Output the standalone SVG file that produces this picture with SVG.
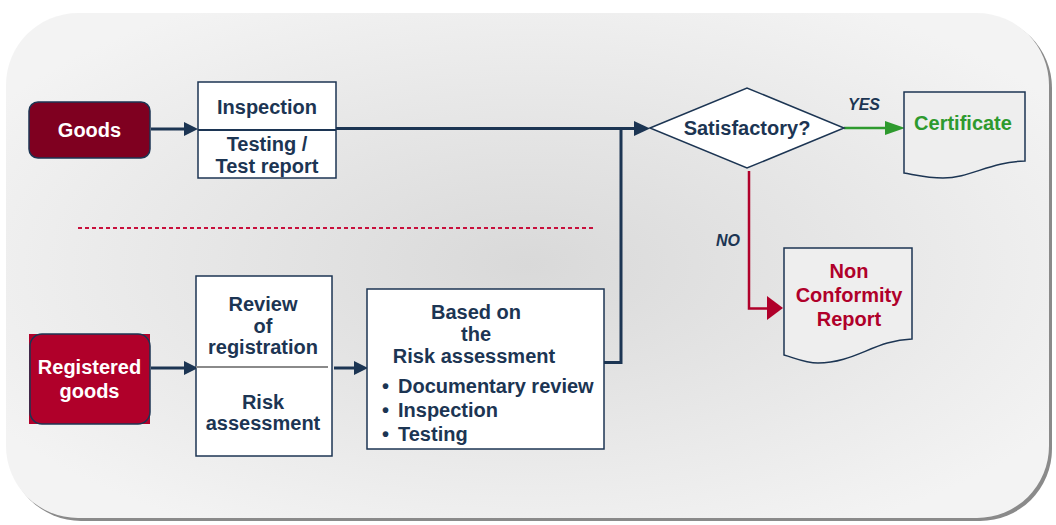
<svg xmlns="http://www.w3.org/2000/svg" width="1056" height="525" viewBox="0 0 1056 525">
<defs>
<radialGradient id="bg" cx="50%" cy="50%" r="60%">
<stop offset="0" stop-color="#d9d9d9"/>
<stop offset="1" stop-color="#f3f3f3"/>
</radialGradient>
<marker id="ah" markerWidth="10" markerHeight="10" refX="9" refY="5" orient="auto" markerUnits="userSpaceOnUse" viewBox="0 0 10 10">
<path d="M0,0 L10,5 L0,10 Z" fill="#1c3553"/>
</marker>
<style>
.t{font-family:"Liberation Sans",Arial,sans-serif;font-weight:bold;font-size:20px;fill:#1c3553;text-anchor:middle}
.w{fill:#ffffff}
.box{fill:#ffffff;stroke:#1c3553;stroke-width:1.5}
.ln{fill:none;stroke:#1c3553;stroke-width:3}
.lab{font-family:"Liberation Sans",Arial,sans-serif;font-weight:bold;font-style:italic;font-size:16px;fill:#1c3553;text-anchor:middle}
</style>
</defs>
<rect x="0" y="0" width="1056" height="525" fill="#ffffff"/>
<rect x="9" y="16" width="1043" height="505" rx="72" fill="#8a8a8a"/>
<rect x="6" y="13" width="1043" height="505" rx="72" fill="url(#bg)"/>

<g id="connectors">
<line x1="151" y1="129" x2="184" y2="129" stroke="#1c3553" stroke-width="3"/>
<path d="M184,122 L198,129 L184,136 Z" fill="#1c3553"/>
<polyline class="ln" points="336,128.5 636,128.5"/>
<polyline class="ln" points="604,362.5 621,362.5 621,128.5"/>
<path d="M634,121 L650,128.5 L634,136 Z" fill="#1c3553"/>
<line x1="151" y1="368" x2="184" y2="368" stroke="#1c3553" stroke-width="3"/>
<path d="M184,361 L198,368 L184,375 Z" fill="#1c3553"/>
<line x1="334" y1="368" x2="354" y2="368" stroke="#1c3553" stroke-width="3"/>
<path d="M354,361 L368,368 L354,375 Z" fill="#1c3553"/>
<line x1="844" y1="128" x2="888" y2="128" stroke="#2e9a2e" stroke-width="2.5"/>
<path d="M885,121 L905,128 L885,135 Z" fill="#2e9a2e"/>
<polyline points="749,171 749,308.5 768,308.5" fill="none" stroke="#b0002a" stroke-width="2.5"/>
<path d="M767,296 L783,308 L767,320 Z" fill="#b0002a"/>
<line x1="78" y1="228" x2="593" y2="228" stroke="#c8103c" stroke-width="2" stroke-dasharray="4,3"/>
<text class="lab" x="864" y="110">YES</text>
<text class="lab" x="728" y="246">NO</text>
</g>

<g id="goods">
<rect x="29" y="102" width="121" height="56" rx="9" fill="#7f0020" stroke="#1c3553" stroke-width="1.5"/>
<text class="t w" x="89.5" y="137">Goods</text>
</g>

<g id="inspection">
<rect class="box" x="198" y="82" width="138" height="96"/>
<line x1="198" y1="130" x2="336" y2="130" stroke="#1c3553" stroke-width="2"/>
<text class="t" x="267" y="114">Inspection</text>
<text class="t" x="267" y="151">Testing /</text>
<text class="t" x="267" y="173">Test report</text>
</g>

<g id="decision">
<polygon points="650,128 747,88 844,128 747,168" fill="#ffffff" stroke="#1c3553" stroke-width="1.5"/>
<text class="t" x="747" y="135">Satisfactory?</text>
</g>

<g id="certificate">
<path d="M904,92 L1025,92 L1025,161 C990,162 970,178 943,178 C928,178 916,175 904,173 Z" fill="#eeeeee" stroke="#1c3553" stroke-width="1.5"/>
<text class="t" x="963" y="130" style="fill:#2e9a2e">Certificate</text>
</g>

<g id="ncr">
<path d="M784,248 L912,248 L912,339 C875,340 855,363 818,363 C805,363 795,358 784,355 Z" fill="#eeeeee" stroke="#1c3553" stroke-width="1.5"/>
<text class="t" x="849" y="278" style="fill:#b0002a">Non</text>
<text class="t" x="849" y="302" style="fill:#b0002a">Conformity</text>
<text class="t" x="849" y="326" style="fill:#b0002a">Report</text>
</g>

<g id="registered-goods">
<rect x="29" y="334" width="121" height="90" fill="#b0002a"/>
<rect x="30" y="334" width="120" height="90" rx="12" fill="none" stroke="#1c3553" stroke-width="1.5"/>
<text class="t w" x="89.5" y="374">Registered</text>
<text class="t w" x="89.5" y="398">goods</text>
</g>

<g id="review">
<rect class="box" x="196" y="276" width="136" height="180"/>
<line x1="196" y1="367" x2="328" y2="367" stroke="#8a8a8a" stroke-width="2"/>
<text class="t" x="263" y="311">Review</text>
<text class="t" x="263" y="333">of</text>
<text class="t" x="263" y="354">registration</text>
<text class="t" x="263" y="409">Risk</text>
<text class="t" x="263" y="430">assessment</text>
</g>

<g id="risk-based">
<rect class="box" x="367" y="289" width="237" height="160"/>
<text class="t" x="476" y="319">Based on</text>
<text class="t" x="476" y="341">the</text>
<text class="t" x="474" y="363">Risk assessment</text>
<text class="t" x="382" y="393" style="text-anchor:start">•</text>
<text class="t" x="398" y="393" style="text-anchor:start">Documentary review</text>
<text class="t" x="382" y="417" style="text-anchor:start">•</text>
<text class="t" x="398" y="417" style="text-anchor:start">Inspection</text>
<text class="t" x="382" y="441" style="text-anchor:start">•</text>
<text class="t" x="398" y="441" style="text-anchor:start">Testing</text>
</g>
</svg>
